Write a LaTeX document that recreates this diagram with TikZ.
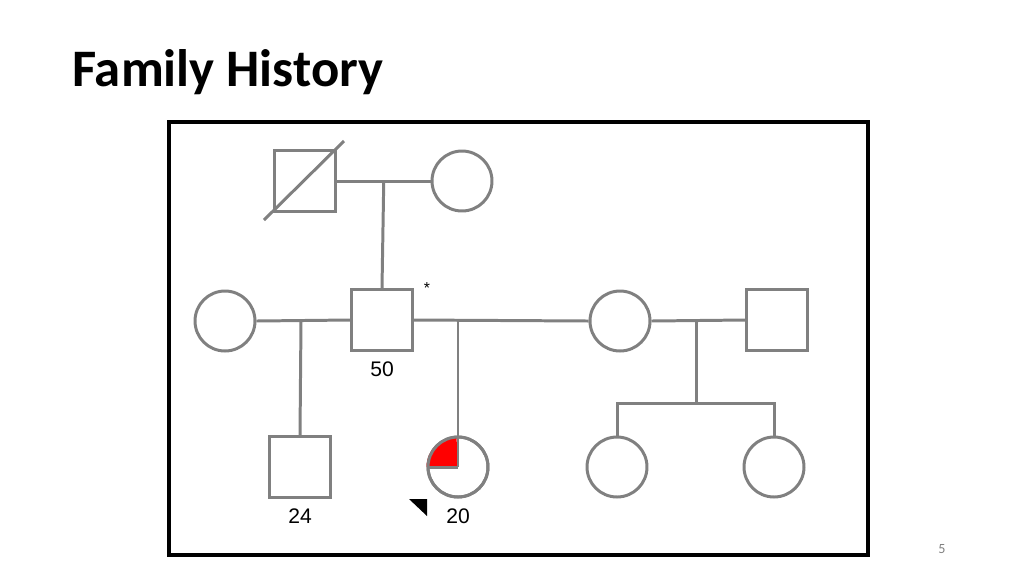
\documentclass[tikz,border=0pt]{standalone}
\usepackage{fontspec}
\setmainfont{Carlito}
\setsansfont{Liberation Sans}
\usetikzlibrary{calc}
\tikzset{male/.style={draw=pedgray,line width=1.7pt,minimum size=1.22cm,inner sep=0pt},
  female/.style={draw=pedgray,line width=1.7pt,circle,minimum size=1.2cm,inner sep=0pt},
  link/.style={draw=pedgray,line width=1.7pt},
  age/.style={font=\sffamily\large}}
\definecolor{pedgray}{RGB}{128,128,128}
\begin{document}
\begin{tikzpicture}[x=0.02cm,y=-0.02cm]
    \useasboundingbox (0,0) rectangle (1024,576);

    % Title and frame
    \node[anchor=west,font=\bfseries\fontsize{30}{36}\selectfont] (title) at (66,72) {Family History};
    \draw[line width=2pt] (169,122) rectangle (868,555);
    \node[font=\footnotesize,text=pedgray] (page) at (942,549) {5};

    % Generation I
    \node[male] (gf) at (305,181) {};
    \draw[link] (264,220) -- (344,141);
    \node[female] (gm) at (462,181) {};
    \draw[link] (gf.east) -- (gm.west);
    \coordinate (m1) at ($(gf.east)!0.5!(gm.west)$);

    % Generation II
    \node[female] (w1) at (225,321) {};
    \node[male] (father) at (382,320) {};
    \node[font=\sffamily\small] (star) at (427,288) {*};
    \node[age] (a50) at (382,369) {50};
    \node[female] (w2) at (620,321) {};
    \node[male] (h2) at (777,320) {};
    \draw[link] (m1) -- (father.north);
    \draw[link] (w1.east) -- (father.west);
    \draw[link] (father.east) -- (w2.west);
    \draw[link] (w2.east) -- (h2.west);

    % Generation III
    \node[male] (son) at (300,467) {};
    \node[age] (a24) at (300,516) {24};
    \node[female] (pro) at (458,467) {};
    \fill[red] (pro.center) -- (pro.west) arc (180:90:0.6cm) -- cycle;
    \draw[link] (pro.center) -- (pro.west);
    \draw[link] (pro.center) -- (pro.north);
    \draw[link] (pro) circle (0.6cm);
    \node[age] (a20) at (458,516) {20};
    \fill (409,499) -- (427,499) -- (427,516) -- cycle;
    \node[female] (d1) at (617,467) {};
    \node[female] (d2) at (774,467) {};

    \draw[link] (301,321) -- (son.north);
    \draw[link] (458,321) -- (pro.north);
    \draw[link] (696,321) -- (696,403);
    \draw[link] (d1.north) |- (696,403) -| (d2.north);

\end{tikzpicture}
\end{document}
